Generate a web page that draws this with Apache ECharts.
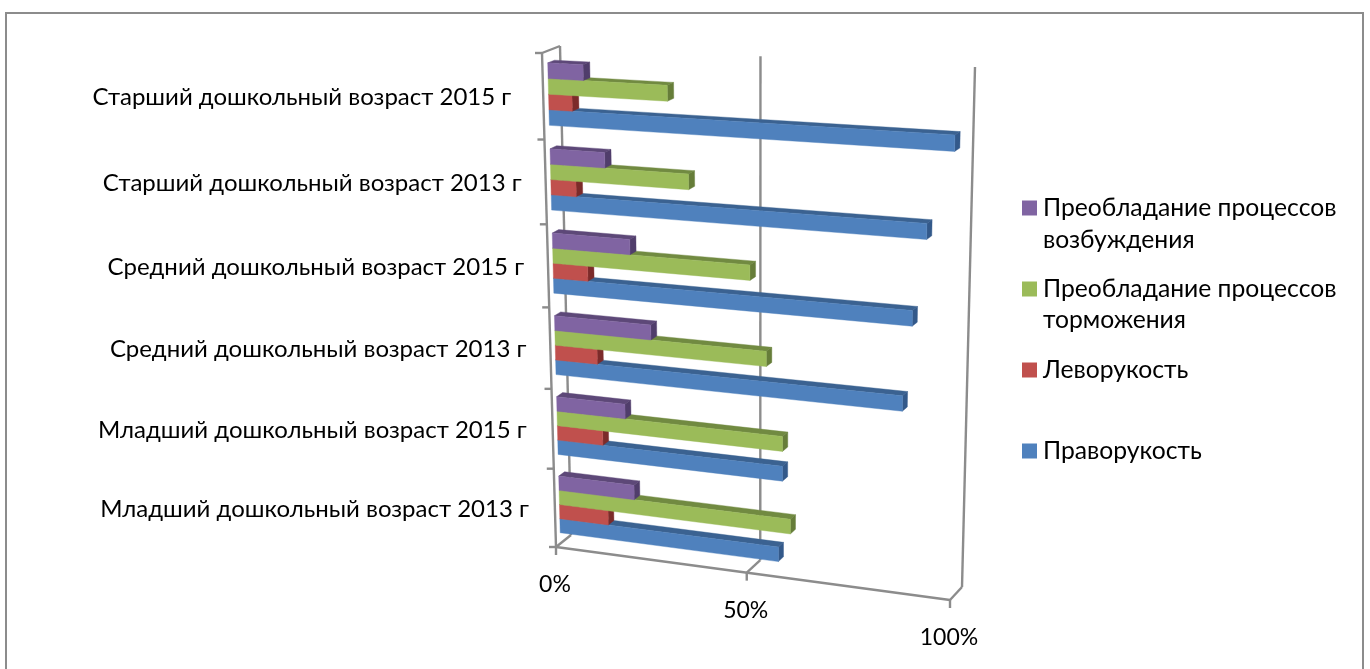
<!DOCTYPE html>
<html><head><meta charset="utf-8">
<style>html,body{margin:0;padding:0;background:#fff}#c{width:1370px;height:669px}</style>
<script src="https://cdn.jsdelivr.net/npm/echarts@6/dist/echarts.min.js"></script>
</head><body><div id="c"></div>
<script>
const categories = ['Младший дошкольный возраст 2013 г','Младший дошкольный возраст 2015 г','Средний дошкольный возраст 2013 г','Средний дошкольный возраст 2015 г','Старший дошкольный возраст 2013 г','Старший дошкольный возраст 2015 г'];
const rightHand = [57,58,87,89,92,98];
const leftHand = [13,12,11,9,6.5,6];
const inhibition = [60,58,54,50,35,30];
const excitation = [20,18,25,20,14,9];
const valueTicks = [0,50,100];

const S_RIGHT='Праворукость', S_LEFT='Леворукость', S_INH='Преобладание процессов\nторможения', S_EXC='Преобладание процессов\nвозбуждения';
const FONT='Lato, Carlito, "Noto Sans", sans-serif';
const LINE='#8c8c8c';
// Projection of the flat plot rectangle onto the chart's 3D box
function homography(p){
  const [p0,p1,p2,p3]=p;
  const dx1=p1[0]-p2[0],dx2=p3[0]-p2[0],sx=p0[0]-p1[0]+p2[0]-p3[0];
  const dy1=p1[1]-p2[1],dy2=p3[1]-p2[1],sy=p0[1]-p1[1]+p2[1]-p3[1];
  const den=dx1*dy2-dx2*dy1;
  const g=(sx*dy2-dx2*sy)/den,h=(dx1*sy-sx*dy1)/den;
  const a=p1[0]-p0[0]+g*p1[0],b=p3[0]-p0[0]+h*p3[0],c=p0[0];
  const d=p1[1]-p0[1]+g*p1[1],e=p3[1]-p0[1]+h*p3[1],f=p0[1];
  return (u,w)=>{const q=g*u+h*w+1;return [(a*u+b*w+c)/q,(d*u+e*w+f)/q];};
}
const frontPlane=homography([[542,53],[961,75],[950,600],[556,547]]);
const backPlane=homography([[560,46],[975,67],[962,587],[571,535]]);
function P(u,w,d){const a=frontPlane(u,w),b=backPlane(u,w);return [a[0]+(b[0]-a[0])*d,a[1]+(b[1]-a[1])*d];}
const D0=0.3,D1=0.68,FILL=0.725;
const labelShift=[2,2,4,4,4,-4];

function barRenderer(slot,colors){
  return function(params,api){
    const cs=params.coordSys;
    const end=api.coord([api.value(0),api.value(1)]);
    const start=api.coord([0,api.value(1)]);
    const band=api.size([0,1])[1];
    const top=end[1]-band*FILL/2+slot*band*FILL/4;
    const w0=(top-cs.y)/cs.height,w1=(top+band*FILL/4-cs.y)/cs.height;
    const u0=(start[0]-cs.x)/cs.width,u1=(end[0]-cs.x)/cs.width;
    const poly=(pts,fill)=>({type:'polygon',shape:{points:pts},style:{fill:fill,stroke:fill,lineWidth:0.4}});
    return {type:'group',children:[
      poly([P(u0,w0,D0),P(u0,w0,D1),P(u1,w0,D1),P(u1,w0,D0)],colors.top),
      poly([P(u1,w0,D0),P(u1,w0,D1),P(u1,w1,D1),P(u1,w1,D0)],colors.side),
      poly([P(u0,w0,D0),P(u1,w0,D0),P(u1,w1,D0),P(u0,w1,D0)],colors.front)
    ]};
  };
}
function barSeries(name,values,slot,colors){
  return {type:'custom',name:name,coordinateSystem:'cartesian2d',clip:false,silent:true,z:5,
    itemStyle:{color:colors.front},
    encode:{x:0,y:1},
    data:values.map((v,i)=>[v,i]),
    renderItem:barRenderer(slot,colors)};
}
function frameRenderer(params,api){
  if(params.dataIndex!==0) return null;
  const L=(a,b)=>({type:'line',shape:{x1:a[0],y1:a[1],x2:b[0],y2:b[1]},style:{stroke:LINE,lineWidth:2.4}});
  const kids=[];
  const n=categories.length;
  kids.push(L(P(0,0,0),P(0,1,0)),L(P(0,0,0),P(0,0,1)),L(P(0,1,0),P(1,1,0)));
  for(let i=0;i<=n;i++){const q=P(0,i/n,0);kids.push(L(q,[q[0]-7,q[1]]));}
  valueTicks.forEach(t=>{
    const cs=params.coordSys;
    const u=(api.coord([t,0])[0]-cs.x)/cs.width;
    const q=P(u,1,0);
    kids.push(L(P(u,0,1),P(u,1,1)),L(q,P(u,1,1)),L(q,[q[0],q[1]+8]));
    kids.push({type:'text',style:{text:t+'%',x:q[0]-1,y:q[1]+38,align:'center',verticalAlign:'middle',font:'23px '+FONT,fill:'#000'}});
  });
  categories.forEach((c,i)=>{
    const q=P(0,1-(i+0.5)/n,0);
    kids.push({type:'text',style:{text:c,x:q[0]-28+labelShift[i],y:q[1]+1,align:'right',verticalAlign:'middle',font:'24px '+FONT,fill:'#000'}});
  });
  return {type:'group',children:kids};
}
const blue={front:'#4F81BD',top:'#3B6291',side:'#33598A'};
const red={front:'#C0504D',top:'#8C3A38',side:'#7C2B2A'};
const green={front:'#9BBB59',top:'#718A41',side:'#667D39'};
const purple={front:'#8064A2',top:'#5D4878',side:'#503D6B'};
const chart=echarts.init(document.getElementById('c'));
const legendNames=[S_EXC,S_INH,S_LEFT,S_RIGHT];
chart.setOption({
  animation:false,backgroundColor:'#fff',
  grid:{left:540,right:400,top:50,bottom:100},
  xAxis:{type:'value',min:0,max:100,interval:50,show:false},
  yAxis:{type:'category',data:categories,show:false},
  legend:{orient:'vertical',left:1022,top:195.5,padding:0,itemWidth:15,itemHeight:15,itemGap:56,icon:'rect',
    data:legendNames,selectedMode:false,
    formatter:n=>n.split('\n')[0],
    textStyle:{fontFamily:FONT,fontSize:24.7,color:'#000',lineHeight:25,padding:[0,0,0,1]}},
  graphic:[
    {type:'rect',z:-10,silent:true,shape:{x:6,y:13,width:1357,height:700},style:{fill:'#fff',stroke:'#8c8c8c',lineWidth:2}},
    {type:'text',left:1043,top:228,silent:true,style:{text:S_EXC.split('\n')[1],font:'24.7px '+FONT,fill:'#000'}},
    {type:'text',left:1043,top:308,silent:true,style:{text:S_INH.split('\n')[1],font:'24.7px '+FONT,fill:'#000'}}
  ],
  series:[
    {type:'custom',name:'frame',coordinateSystem:'cartesian2d',clip:false,silent:true,z:2,data:categories.map((c,i)=>[0,i]),renderItem:frameRenderer},
    barSeries(S_RIGHT,rightHand,3,blue),
    barSeries(S_LEFT,leftHand,2,red),
    barSeries(S_INH,inhibition,1,green),
    barSeries(S_EXC,excitation,0,purple)
  ]
});
</script></body></html>
